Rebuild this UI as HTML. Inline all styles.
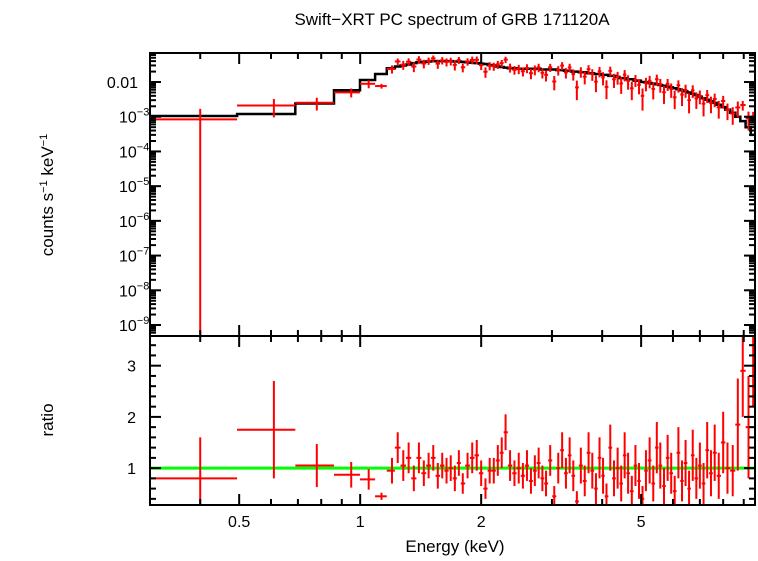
<!DOCTYPE html>
<html><head><meta charset="utf-8"><style>
body{margin:0;background:#fff;}
svg text{font-family:"Liberation Sans",sans-serif;fill:#000;}
</style></head><body>
<svg id="chart" width="758" height="556" xmlns="http://www.w3.org/2000/svg">
<defs>
<clipPath id="ct"><rect x="150" y="53" width="605" height="283"/></clipPath>
<clipPath id="cb"><rect x="150" y="337" width="605" height="168"/></clipPath>
</defs>
<text x="452" y="25" font-size="17" text-anchor="middle">Swift−XRT PC spectrum of GRB 171120A</text>
<text transform="translate(53,195) rotate(-90)" font-size="17" text-anchor="middle">counts s<tspan dy="-6" font-size="11">−1</tspan><tspan dy="6"> keV</tspan><tspan dy="-6" font-size="11">−1</tspan></text>
<text transform="translate(53,420) rotate(-90)" font-size="17" text-anchor="middle">ratio</text>
<text x="455" y="552" font-size="17" text-anchor="middle">Energy (keV)</text>
<g id="gTop"></g>
<g id="gBot"></g>
<g id="gAxes"></g>
</svg>
<script>
const energies=[0.40,0.61,0.78,0.95,1.05,1.13,
1.20,1.24,1.28,1.32,1.36,1.40,1.44,1.48,1.52,1.56,1.60,1.64,1.68,1.72,1.76,1.80,1.85,1.90,1.95,2.00,2.05,2.10,2.15,2.20,2.25,2.30,2.36,2.42,2.48,2.54,2.60,2.66,2.72,2.78,2.84,2.90,2.97,3.04,3.11,3.18,3.25,3.32,3.39,3.46,3.54,3.62,3.70,3.78,3.86,3.94,4.02,4.10,4.19,4.28,4.37,4.46,4.55,4.64,4.74,4.84,4.94,5.04,5.14,5.25,5.36,5.47,5.58,5.70,5.82,5.94,6.06,6.19,6.32,6.45,6.58,6.72,6.86,7.00,7.15,7.30,7.46,7.62,7.80,8.00,8.20,8.45,8.70,8.95,9.25,9.50];
const modelFlux=[0.00105,0.0012,0.0024,0.0058,0.0114,0.017,
0.025,0.028,0.030,0.032,0.035,0.037,0.038,0.039,0.040,0.040,0.040,0.040,0.040,0.039,0.039,0.038,0.037,0.036,0.035,0.034,0.033,0.031,0.030,0.028,0.027,0.026,0.025,0.025,0.024,0.024,0.024,0.024,0.024,0.024,0.023,0.023,0.023,0.023,0.022,0.022,0.021,0.021,0.020,0.020,0.019,0.019,0.018,0.018,0.017,0.017,0.016,0.016,0.015,0.015,0.014,0.013,0.013,0.012,0.012,0.011,0.011,0.010,0.0098,0.0094,0.0090,0.0086,0.0082,0.0078,0.0074,0.0070,0.0066,0.0062,0.0058,0.0054,0.0050,0.0046,0.0042,0.0038,0.0034,0.0031,0.0028,0.0025,0.0022,0.0019,0.0016,0.0013,0.0010,0.00075,0.00050,0.00030];
const ratioVals=[0.80,1.75,1.05,0.87,0.78,0.45,
0.95,1.40,1.05,1.20,0.80,1.20,0.90,1.05,1.20,0.85,1.05,0.95,1.00,0.80,1.10,0.70,1.05,1.20,1.25,0.90,0.60,0.95,0.95,1.15,1.30,1.70,1.05,0.90,1.00,0.85,1.05,0.75,0.95,1.10,0.80,0.70,1.15,0.45,1.00,1.35,0.90,1.25,0.85,0.35,1.05,0.75,1.30,0.95,0.60,1.20,0.85,0.45,1.40,0.80,1.00,0.70,1.25,0.90,0.55,1.05,0.75,0.40,0.95,1.15,0.70,1.40,1.05,0.65,1.20,0.90,0.55,1.30,0.75,1.10,0.60,1.25,0.80,1.05,0.70,1.35,0.90,1.30,0.85,1.50,1.00,0.95,1.85,2.90,1.80,3.40];
const ratioErr=[0.80,0.95,0.42,0.25,0.20,0.07,
0.25,0.30,0.30,0.30,0.25,0.30,0.25,0.25,0.25,0.25,0.25,0.25,0.25,0.25,0.25,0.20,0.25,0.30,0.30,0.25,0.20,0.25,0.25,0.30,0.30,0.35,0.30,0.25,0.30,0.25,0.30,0.25,0.30,0.30,0.25,0.25,0.30,0.20,0.30,0.35,0.30,0.35,0.30,0.20,0.35,0.30,0.40,0.35,0.30,0.40,0.35,0.25,0.45,0.35,0.40,0.35,0.45,0.40,0.30,0.40,0.35,0.25,0.40,0.45,0.35,0.50,0.45,0.35,0.45,0.40,0.30,0.50,0.40,0.45,0.35,0.50,0.40,0.45,0.40,0.55,0.45,0.55,0.45,0.60,0.50,0.50,0.90,0.90,1.00,1.20];
const xTickLabels=["0.5","1","2","5"];
const xTickValues=[0.5,1,2,5];
const yTopLabels=["0.01","10","10","10","10","10","10","10"];
const yTopExps=["","−3","−4","−5","−6","−7","−8","−9"];
const yTopValues=[-2,-3,-4,-5,-6,-7,-8,-9];
const yBotValues=[1,2,3];

const NS="http://www.w3.org/2000/svg";
const X0=150,X1=755,EMIN=0.30,EMAX=9.6;
const xs=e=>X0+(X1-X0)*Math.log10(e/EMIN)/Math.log10(EMAX/EMIN);
const TY0=53,TY1=336,LMAX=-1.164,LMIN=-9.317;
const ys=v=>v<=0?TY1+50:TY0+(TY1-TY0)*(LMAX-Math.log10(v))/(LMAX-LMIN);
const BY0=337,BY1=505,RMAX=3.56,RMIN=0.28;
const yr=r=>BY0+(BY1-BY0)*(RMAX-r)/(RMAX-RMIN);
function mk(tag,attrs,parent){const el=document.createElementNS(NS,tag);for(const k in attrs)el.setAttribute(k,attrs[k]);parent.appendChild(el);return el;}
const gT=document.getElementById('gTop'),gB=document.getElementById('gBot'),gA=document.getElementById('gAxes');
const cT=mk('g',{'clip-path':'url(#ct)'},gT),cB=mk('g',{'clip-path':'url(#cb)'},gB);
const n=energies.length;
const lo=[],hi=[];
for(let i=0;i<n;i++){lo.push(i==0?EMIN:Math.sqrt(energies[i-1]*energies[i]));hi.push(i==n-1?EMAX:Math.sqrt(energies[i]*energies[i+1]));}
let d="";
for(let i=0;i<n;i++){const y=ys(modelFlux[i]).toFixed(1);d+=(i==0?"M":"L")+xs(lo[i]).toFixed(1)+","+y+"L"+xs(hi[i]).toFixed(1)+","+y;}
const mp=mk('path',{d:d,fill:'none',stroke:'#000','stroke-width':2.5},cT);


const gl=mk('line',{x1:X0,x2:X1,y1:yr(1),y2:yr(1),stroke:'#00ff00','stroke-width':3},cB);


for(let i=0;i<n;i++){
 const r=ratioVals[i],e=ratioErr[i],m=modelFlux[i];
 const xc=xs(energies[i]),xl=xs(lo[i]),xh=xs(hi[i]);
 const g1=mk('g',{stroke:'#ff0000','stroke-width':2},cT);
 
 
 mk('line',{x1:xl,x2:xh,y1:ys(r*m),y2:ys(r*m)},g1);
 mk('line',{x1:xc,x2:xc,y1:ys((r-e)*m),y2:ys((r+e)*m)},g1);
 const g2=mk('g',{stroke:'#ff0000','stroke-width':2},cB);
 
 
 mk('line',{x1:xl,x2:xh,y1:yr(r),y2:yr(r)},g2);
 mk('line',{x1:xc,x2:xc,y1:yr(r-e),y2:yr(r+e)},g2);
}
mk('rect',{x:X0,y:TY0,width:X1-X0,height:TY1-TY0,fill:'none',stroke:'#000','stroke-width':2},gA);
mk('rect',{x:X0,y:BY0-1,width:X1-X0,height:BY1-BY0+1,fill:'none',stroke:'#000','stroke-width':2},gA);
function tk(x1,y1,x2,y2){mk('line',{x1:x1,y1:y1,x2:x2,y2:y2,stroke:'#000','stroke-width':2},gA);}
const minors=[0.3,0.4,0.6,0.7,0.8,0.9,3,4,6,7,8,9];
for(const v of minors){const x=xs(v);[TY0,BY0-1].forEach(y=>tk(x,y,x,y+6));[TY1,BY1].forEach(y=>tk(x,y,x,y-6));}
for(const v of xTickValues){const x=xs(v);[TY0,BY0-1].forEach(y=>tk(x,y,x,y+11));[TY1,BY1].forEach(y=>tk(x,y,x,y-11));}
xTickValues.forEach((v,i)=>{const t=mk('text',{x:xs(v),y:527,'font-size':16,'text-anchor':'middle'},gA);t.textContent=xTickLabels[i];
 
 });
for(let dec=-10;dec<=-1;dec++){for(let k=1;k<10;k++){const v=k*Math.pow(10,dec);const y=ys(v);if(y<TY0+1||y>TY1-1)continue;const L=k==1?11:6;tk(X0,y,X0+L,y);tk(X1,y,X1-L,y);}}
yTopValues.forEach((v,i)=>{const t=mk('text',{x:i==0?138:130,y:ys(Math.pow(10,v))+6,'font-size':16,'text-anchor':'end'},gA);
 
 
 t.textContent=yTopLabels[i];
 if(yTopExps[i]){const s=mk('tspan',{dy:-7,'font-size':11},t);s.textContent=yTopExps[i];t.setAttribute('x',119);t.setAttribute('text-anchor','start');}
});
for(let r=0.4;r<3.55;r+=0.2){const y=yr(r);const maj=Math.abs(r-Math.round(r))<0.01;const L=maj?11:6;tk(X0,y,X0+L,y);tk(X1,y,X1-L,y);}
yBotValues.forEach(v=>{const t=mk('text',{x:136,y:yr(v)+6,'font-size':16,'text-anchor':'end'},gA);t.textContent=String(v);
 
 });
</script>
</body></html>
